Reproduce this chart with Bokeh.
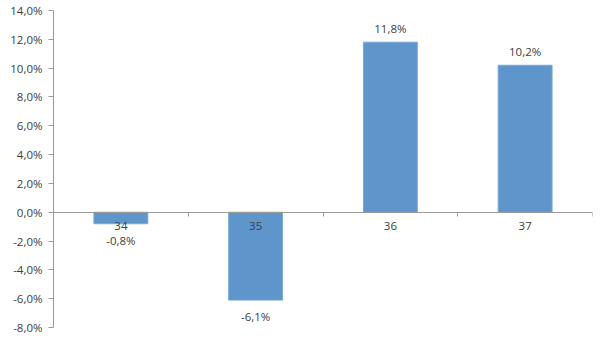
from bokeh.plotting import figure
from bokeh.models import Range1d, LinearAxis, FixedTicker, CustomJSTickFormatter, ColumnDataSource
from bokeh.core.properties import value
from bokeh.embed import file_html
from bokeh.resources import INLINE

categories = ["34", "35", "36", "37"]
values = [-0.8, -6.1, 11.8, 10.2]
y_ticks = [-8, -6, -4, -2, 0, 2, 4, 6, 8, 10, 12, 14]

FONT = "Open Sans"
TXT = "#404040"
AX = "#9a9a9a"

x = [i + 0.5 for i in range(len(categories))]
labels = [("%.1f" % v).replace(".", ",") + "%" for v in values]
pos = [v >= 0 for v in values]

p = figure(width=600, height=340, output_backend="svg", toolbar_location=None,
           x_range=Range1d(0, len(categories)), y_range=Range1d(-8, 14),
           min_border_left=53, min_border_right=8, min_border_top=10, min_border_bottom=13)
p.outline_line_color = None
p.grid.visible = False
p.xaxis.visible = False

ya = p.yaxis[0]
ya.ticker = FixedTicker(ticks=y_ticks)
ya.formatter = CustomJSTickFormatter(code="return tick.toFixed(1).replace('.', ',') + '%';")
ya.axis_line_color = AX
ya.major_tick_line_color = AX
ya.major_tick_out = 5
ya.major_tick_in = 0
ya.minor_tick_line_color = None
ya.major_label_text_font = FONT
ya.major_label_text_font_size = "11.5px"
ya.major_label_text_color = TXT
ya.major_label_standoff = 6

src = ColumnDataSource(dict(x=x, top=values, cat=categories, lab=labels))
p.vbar(x="x", top="top", bottom=0, width=0.4, source=src, fill_color="#5E95CB", line_color="#7AA9D6", line_width=1)

xa = LinearAxis(fixed_location=0, ticker=FixedTicker(ticks=[1, 2, 3, 4]))
xa.axis_line_color = AX
xa.major_tick_line_color = AX
xa.major_tick_out = 4
xa.major_tick_in = 0
xa.minor_tick_line_color = None
xa.major_label_text_alpha = 0
p.add_layout(xa, "below")

p.text(x="x", y=0, text="cat", source=src, text_font=value(FONT), text_font_size="11.5px",
       text_color=TXT, text_align="center", text_baseline="top", y_offset=10)

pos_src = ColumnDataSource(dict(x=[a for a, b in zip(x, pos) if b], y=[a for a, b in zip(values, pos) if b],
                                t=[a for a, b in zip(labels, pos) if b]))
neg_src = ColumnDataSource(dict(x=[a for a, b in zip(x, pos) if not b], y=[a for a, b in zip(values, pos) if not b],
                                t=[a for a, b in zip(labels, pos) if not b]))
p.text(x="x", y="y", text="t", source=pos_src, text_font=value(FONT), text_font_size="11.5px",
       text_color=TXT, text_align="center", text_baseline="bottom", y_offset=-6)
p.text(x="x", y="y", text="t", source=neg_src, text_font=value(FONT), text_font_size="11.5px",
       text_color=TXT, text_align="center", text_baseline="top", y_offset=9)

open("out.html", "w").write(file_html(p, INLINE))
